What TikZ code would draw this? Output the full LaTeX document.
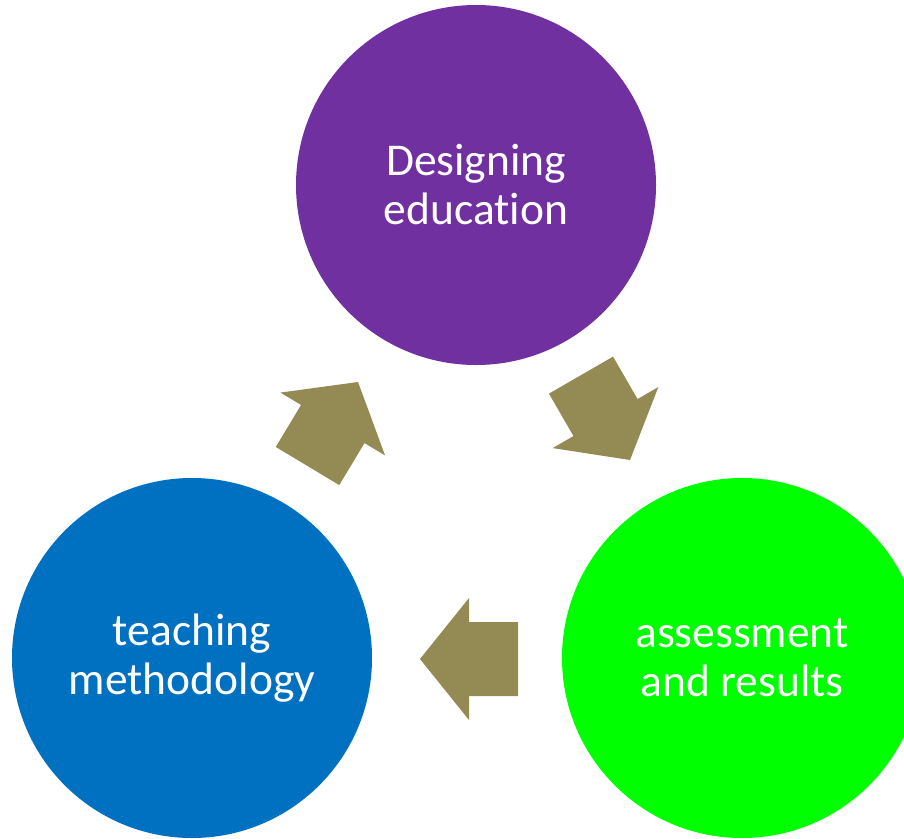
\documentclass[tikz,border=0pt]{standalone}
\usepackage{fontspec}
\setmainfont[Ligatures={NoCommon}]{Carlito}
\definecolor{cpurple}{HTML}{7030A0}
\definecolor{cblue}{HTML}{0070C0}
\definecolor{cgreen}{HTML}{00FF00}
\definecolor{colive}{HTML}{948A54}
\begin{document}
\begin{tikzpicture}[x=1pt,y=-1pt,
  bubble/.style={circle,minimum size=360pt,inner sep=0pt,text=white,align=center,
    font=\fontsize{45.5}{49}\selectfont},
  cyclearrow/.style={fill=colive,draw=none}]
\useasboundingbox (0,0) rectangle (904,838);
\clip (0,0) rectangle (904,838);
\fill[white] (-5,-5) rectangle (910,845);
\node[bubble,fill=cpurple] (design) at (476,185) {Designing\\education};
\node[bubble,fill=cblue] (teach) at (192,658) {teaching\\methodology};
\node[bubble,fill=cgreen] (assess) at (742,658) {assessment\\and results};
\coordinate (tipA) at (358,382);
\coordinate (tipB) at (630,460);
\coordinate (tipC) at (420,659);
\foreach \t/\a in {tipA/59,tipB/-60,tipC/180}{
  \fill[cyclearrow,shift={(\t)},rotate=\a]
    (0,0) -- (-49,61) -- (-49,37) -- (-98,37) -- (-98,-37) -- (-49,-37) -- (-49,-61) -- cycle;
}
\end{tikzpicture}
\end{document}
